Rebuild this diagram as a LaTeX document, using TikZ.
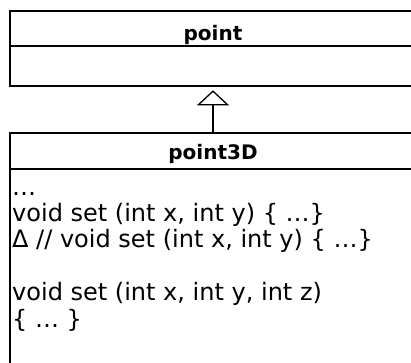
\documentclass[tikz,border=0pt]{standalone}
\usepackage{fontspec}
\setmainfont{DejaVu Sans}
\usetikzlibrary{arrows.meta}
\tikzset{
  classbox/.style={draw, line width=1.8pt, anchor=north west, inner sep=0pt},
  divider/.style={line width=2.2pt},
  classtitle/.style={anchor=base, inner sep=0pt, font=\fontsize{20}{24}\selectfont\bfseries},
  member/.style={anchor=base west, inner sep=0pt, font=\fontsize{24}{28}\selectfont},
  inherits/.style={line width=1.3pt, -{Triangle[open, length=15pt, width=32pt, line width=1.3pt]}, shorten >=3.5pt}
}
\begin{document}
\begin{tikzpicture}[x=1pt, y=-1pt]
  \useasboundingbox (0,0) rectangle (411,362);
  \clip (0,0) rectangle (411,362);

  % superclass
  \node[classbox, minimum width=421pt, minimum height=75pt] (point) at (9,10) {};
  \draw[divider] (9,46) -- (430,46);
  \node[classtitle] (pointname) at (213,40) {point};

  % subclass
  \node[classbox, minimum width=421pt, minimum height=250pt] (point3D) at (9,132) {};
  \draw[divider] (9,169) -- (430,169);
  \node[classtitle] (point3Dname) at (213,159) {point3D};

  \node[member] (m1) at (12,195)   {…};
  \node[member] (m2) at (12,221) {void set (int x, int y) \{ …\}};
  \node[member] (m3) at (12,247.5) {Δ // void set (int x, int y) \{ …\}};
  \node[member] (m4) at (12,300.5) {void set (int x, int y, int z)};
  \node[member] (m5) at (12,327) {\{ … \}};

  % generalisation arrow
  \coordinate (axis) at (213,0);
  \draw[inherits] (point3D.north -| axis) -- (point.south -| axis);
\end{tikzpicture}
\end{document}
